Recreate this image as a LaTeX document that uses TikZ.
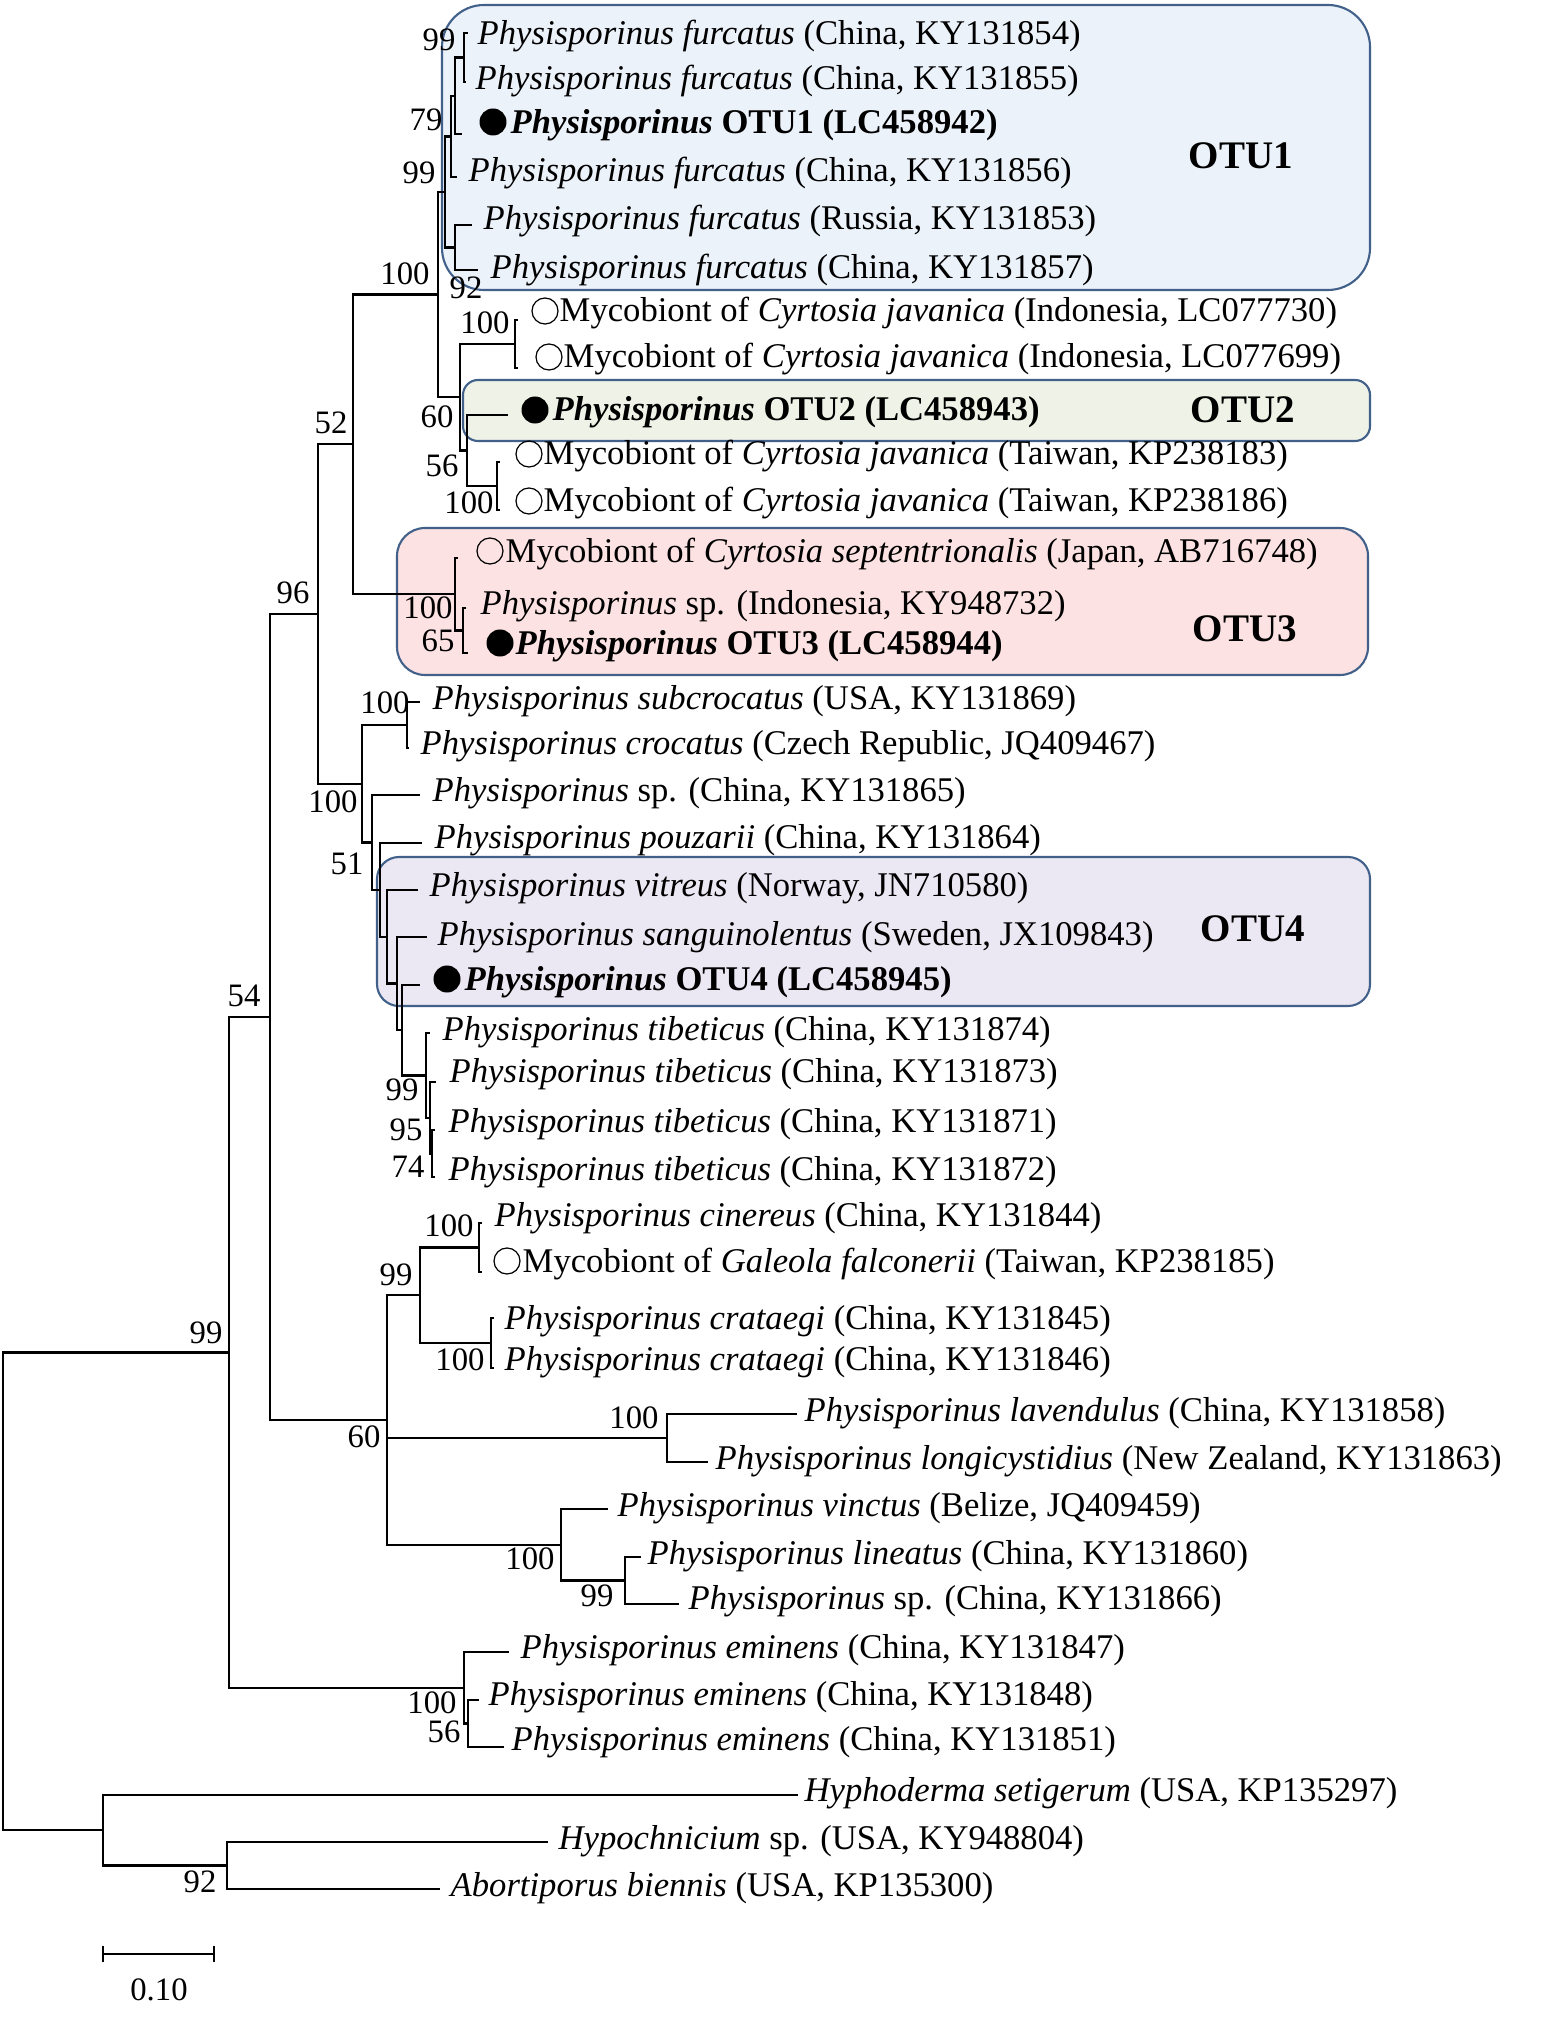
\documentclass[tikz,border=0pt]{standalone}
\usepackage{fontspec}
\setmainfont{Liberation Serif}
\usetikzlibrary{arrows.meta}
\definecolor{otuedge}{RGB}{65,96,138}
\definecolor{otuone}{RGB}{236,242,250}
\definecolor{otutwo}{RGB}{239,243,231}
\definecolor{otuthree}{RGB}{252,226,226}
\definecolor{otufour}{RGB}{236,232,243}
\tikzset{
  taxon/.style={anchor=base west,inner sep=0pt,font=\fontsize{9.85}{11}\selectfont},
  boot/.style={inner sep=0pt,font=\fontsize{9.3}{11}\selectfont},
  otulabel/.style={inner sep=0pt,font=\fontsize{11.1}{13}\selectfont\bfseries},
  otubox/.style={draw=otuedge,line width=0.6pt},
  fulldot/.style={circle,fill=black,inner sep=0pt,minimum size=0.27cm},
  opendot/.style={circle,draw=black,line width=0.35pt,inner sep=0pt,minimum size=0.26cm},
  branch/.style={line width=0.6pt}
}
\begin{document}
\begin{tikzpicture}[x=0.01cm,y=-0.01cm]
        \fill[white] (0,0) rectangle (1550,2034);
        \draw[otubox,fill=otuone,rounded corners=0.42cm] (442,5) rectangle (1370,290);
        \draw[otubox,fill=otutwo,rounded corners=0.15cm] (463,380) rectangle (1370,441);
        \draw[otubox,fill=otuthree,rounded corners=0.28cm] (397,528) rectangle (1368,675);
        \draw[otubox,fill=otufour,rounded corners=0.22cm] (377,857) rectangle (1370,1006);
        % internal nodes
        \coordinate (n99a) at (464,57.5);
        \coordinate (n79) at (455,96);
        \coordinate (n99b) at (451,136.5);
        \coordinate (n92) at (455,247.5);
        \coordinate (nA) at (445,192);
        \coordinate (nInd) at (515,344);
        \coordinate (nTw) at (497,486);
        \coordinate (n56) at (467,450.5);
        \coordinate (n60a) at (460,397);
        \coordinate (n100a) at (438,294.5);
        \coordinate (n65) at (463,630.5);
        \coordinate (n100b) at (455,594);
        \coordinate (n52) at (353,444);
        \coordinate (n100c) at (407,725);
        \coordinate (nT2) at (432,1153.5);
        \coordinate (nT1) at (430,1118);
        \coordinate (nT0) at (426,1075.5);
        \coordinate (nO1) at (402,1030);
        \coordinate (nO2) at (397,983.5);
        \coordinate (nO3) at (387,937);
        \coordinate (nP) at (380,890);
        \coordinate (n51) at (372,842.5);
        \coordinate (n100d) at (362,784);
        \coordinate (n96) at (318,614);
        \coordinate (n100e) at (479,1247.5);
        \coordinate (n100f) at (491,1343);
        \coordinate (n99c) at (420,1295);
        \coordinate (n100g) at (667,1438);
        \coordinate (n99d) at (625,1580.5);
        \coordinate (n100h) at (561,1545);
        \coordinate (n60b) at (387,1420);
        \coordinate (n54) at (270,1017);
        \coordinate (n56b) at (468,1723.5);
        \coordinate (nEm) at (464,1688);
        \coordinate (n99e) at (229,1352.5);
        \coordinate (n92b) at (227,1865.5);
        \coordinate (nOut) at (103,1830);
        \coordinate (nRoot) at (3,1591);
        % branch tips
        \coordinate (t1) at (468,33);
        \coordinate (t2) at (466,82);
        \coordinate (t3) at (462,134);
        \coordinate (t4) at (457,177);
        \coordinate (t5) at (472,225);
        \coordinate (t6) at (478,270);
        \coordinate (t7) at (518,320);
        \coordinate (t8) at (518,368);
        \coordinate (t9) at (508,415);
        \coordinate (t10) at (500,462);
        \coordinate (t11) at (500,510);
        \coordinate (t12) at (458,558);
        \coordinate (t13) at (466,608);
        \coordinate (t14) at (468,653);
        \coordinate (t15) at (420,702);
        \coordinate (t16) at (409,748);
        \coordinate (t17) at (420,795);
        \coordinate (t18) at (422,843);
        \coordinate (t19) at (418,890);
        \coordinate (t20) at (427,937);
        \coordinate (t21) at (420,985);
        \coordinate (t22) at (430,1033);
        \coordinate (t23) at (436,1082);
        \coordinate (t24) at (435,1130);
        \coordinate (t25) at (435,1177);
        \coordinate (t26) at (482,1223);
        \coordinate (t27) at (482,1272);
        \coordinate (t28) at (494,1318);
        \coordinate (t29) at (494,1368);
        \coordinate (t30) at (797,1414);
        \coordinate (t31) at (708,1462);
        \coordinate (t32) at (608,1509);
        \coordinate (t33) at (641,1557);
        \coordinate (t34) at (679,1604);
        \coordinate (t35) at (509,1652);
        \coordinate (t36) at (479,1700);
        \coordinate (t37) at (504,1747);
        \coordinate (t38) at (798,1795);
        \coordinate (t39) at (548,1842);
        \coordinate (t40) at (440,1889);
        % branches
        \draw[branch] (n99a) |- (t1) (n99a) |- (t2);
        \draw[branch] (n79) |- (n99a) (n79) |- (t3);
        \draw[branch] (n99b) |- (n79) (n99b) |- (t4);
        \draw[branch] (n92) |- (t5) (n92) |- (t6);
        \draw[branch] (nA) |- (n99b) (nA) |- (n92);
        \draw[branch] (nInd) |- (t7) (nInd) |- (t8);
        \draw[branch] (nTw) |- (t10) (nTw) |- (t11);
        \draw[branch] (n56) |- (t9) (n56) |- (nTw);
        \draw[branch] (n60a) |- (nInd) (n60a) |- (n56);
        \draw[branch] (n100a) |- (nA) (n100a) |- (n60a);
        \draw[branch] (n65) |- (t13) (n65) |- (t14);
        \draw[branch] (n100b) |- (t12) (n100b) |- (n65);
        \draw[branch] (n52) |- (n100a) (n52) |- (n100b);
        \draw[branch] (n100c) |- (t15) (n100c) |- (t16);
        \draw[branch] (nT2) |- (t24) (nT2) |- (t25);
        \draw[branch] (nT1) |- (t23) (nT1) |- (nT2);
        \draw[branch] (nT0) |- (t22) (nT0) |- (nT1);
        \draw[branch] (nO1) |- (t21) (nO1) |- (nT0);
        \draw[branch] (nO2) |- (t20) (nO2) |- (nO1);
        \draw[branch] (nO3) |- (t19) (nO3) |- (nO2);
        \draw[branch] (nP) |- (t18) (nP) |- (nO3);
        \draw[branch] (n51) |- (t17) (n51) |- (nP);
        \draw[branch] (n100d) |- (n100c) (n100d) |- (n51);
        \draw[branch] (n96) |- (n52) (n96) |- (n100d);
        \draw[branch] (n100e) |- (t26) (n100e) |- (t27);
        \draw[branch] (n100f) |- (t28) (n100f) |- (t29);
        \draw[branch] (n99c) |- (n100e) (n99c) |- (n100f);
        \draw[branch] (n100g) |- (t30) (n100g) |- (t31);
        \draw[branch] (n99d) |- (t33) (n99d) |- (t34);
        \draw[branch] (n100h) |- (t32) (n100h) |- (n99d);
        \draw[branch] (n60b) |- (n99c) (n60b) |- (n100g) (n60b) |- (n100h);
        \draw[branch] (n54) |- (n96) (n54) |- (n60b);
        \draw[branch] (n56b) |- (t36) (n56b) |- (t37);
        \draw[branch] (nEm) |- (t35) (nEm) |- (n56b);
        \draw[branch] (n99e) |- (n54) (n99e) |- (nEm);
        \draw[branch] (n92b) |- (t39) (n92b) |- (t40);
        \draw[branch] (nOut) |- (t38) (nOut) |- (n92b);
        \draw[branch] (nRoot) |- (n99e) (nRoot) |- (nOut);
        % taxa
        \node at (477,45) [taxon] (s1) {\textit{Physisporinus furcatus} (China, KY131854)};
        \node at (475,90) [taxon] (s2) {\textit{Physisporinus furcatus} (China, KY131855)};
        \node at (493,122) [fulldot] (d3) {};
        \node at (510,134) [taxon] (s3) {\textbf{\textit{Physisporinus} OTU1 (LC458942)}};
        \node at (468,182) [taxon] (s4) {\textit{Physisporinus furcatus} (China, KY131856)};
        \node at (483,230) [taxon] (s5) {\textit{Physisporinus furcatus} (Russia, KY131853)};
        \node at (490,279) [taxon] (s6) {\textit{Physisporinus furcatus} (China, KY131857)};
        \node at (545,311) [opendot] (d7) {};
        \node at (559,322) [taxon] (s7) {Mycobiont of \textit{Cyrtosia javanica} (Indonesia, LC077730)};
        \node at (549,357) [opendot] (d8) {};
        \node at (563,368) [taxon] (s8) {Mycobiont of \textit{Cyrtosia javanica} (Indonesia, LC077699)};
        \node at (535,410) [fulldot] (d9) {};
        \node at (552,421) [taxon] (s9) {\textbf{\textit{Physisporinus} OTU2 (LC458943)}};
        \node at (529,454) [opendot] (d10) {};
        \node at (543,465) [taxon] (s10) {Mycobiont of \textit{Cyrtosia javanica} (Taiwan, KP238183)};
        \node at (529,501) [opendot] (d11) {};
        \node at (543,512) [taxon] (s11) {Mycobiont of \textit{Cyrtosia javanica} (Taiwan, KP238186)};
        \node at (490,551) [opendot] (d12) {};
        \node at (505,562) [taxon] (s12) {Mycobiont of \textit{Cyrtosia septentrionalis} (Japan, AB716748)};
        \node at (480,614) [taxon] (s13) {\textit{Physisporinus} sp. (Indonesia, KY948732)};
        \node at (500,643) [fulldot] (d14) {};
        \node at (515,654) [taxon] (s14) {\textbf{\textit{Physisporinus} OTU3 (LC458944)}};
        \node at (432,709) [taxon] (s15) {\textit{Physisporinus subcrocatus} (USA, KY131869)};
        \node at (420,754) [taxon] (s16) {\textit{Physisporinus crocatus} (Czech Republic, JQ409467)};
        \node at (432,801) [taxon] (s17) {\textit{Physisporinus} sp. (China, KY131865)};
        \node at (434,848) [taxon] (s18) {\textit{Physisporinus pouzarii} (China, KY131864)};
        \node at (429,896) [taxon] (s19) {\textit{Physisporinus vitreus} (Norway, JN710580)};
        \node at (437,945) [taxon] (s20) {\textit{Physisporinus sanguinolentus} (Sweden, JX109843)};
        \node at (447,979) [fulldot] (d21) {};
        \node at (464,990) [taxon] (s21) {\textbf{\textit{Physisporinus} OTU4 (LC458945)}};
        \node at (442,1040) [taxon] (s22) {\textit{Physisporinus tibeticus} (China, KY131874)};
        \node at (449,1082) [taxon] (s23) {\textit{Physisporinus tibeticus} (China, KY131873)};
        \node at (448,1132) [taxon] (s24) {\textit{Physisporinus tibeticus} (China, KY131871)};
        \node at (448,1180) [taxon] (s25) {\textit{Physisporinus tibeticus} (China, KY131872)};
        \node at (494,1226) [taxon] (s26) {\textit{Physisporinus cinereus} (China, KY131844)};
        \node at (507,1261) [opendot] (d27) {};
        \node at (522,1272) [taxon] (s27) {Mycobiont of \textit{Galeola falconerii} (Taiwan, KP238185)};
        \node at (504,1329) [taxon] (s28) {\textit{Physisporinus crataegi} (China, KY131845)};
        \node at (504,1370) [taxon] (s29) {\textit{Physisporinus crataegi} (China, KY131846)};
        \node at (804,1421) [taxon] (s30) {\textit{Physisporinus lavendulus} (China, KY131858)};
        \node at (715,1469) [taxon] (s31) {\textit{Physisporinus longicystidius} (New Zealand, KY131863)};
        \node at (617,1516) [taxon] (s32) {\textit{Physisporinus vinctus} (Belize, JQ409459)};
        \node at (647,1564) [taxon] (s33) {\textit{Physisporinus lineatus} (China, KY131860)};
        \node at (688,1609) [taxon] (s34) {\textit{Physisporinus} sp. (China, KY131866)};
        \node at (520,1658) [taxon] (s35) {\textit{Physisporinus eminens} (China, KY131847)};
        \node at (488,1705) [taxon] (s36) {\textit{Physisporinus eminens} (China, KY131848)};
        \node at (511,1750) [taxon] (s37) {\textit{Physisporinus eminens} (China, KY131851)};
        \node at (804,1801) [taxon] (s38) {\textit{Hyphoderma setigerum} (USA, KP135297)};
        \node at (558,1849) [taxon] (s39) {\textit{Hypochnicium} sp. (USA, KY948804)};
        \node at (450,1896) [taxon] (s40) {\textit{Abortiporus biennis} (USA, KP135300)};
        % bootstrap values
        \node at (439,40) [boot] (b1) {99};
        \node at (426,120) [boot] (b2) {79};
        \node at (419,173) [boot] (b3) {99};
        \node at (466,288) [boot] (b4) {92};
        \node at (405,274) [boot] (b5) {100};
        \node at (485,323) [boot] (b6) {100};
        \node at (437,417) [boot] (b7) {60};
        \node at (442,466) [boot] (b8) {56};
        \node at (469,503) [boot] (b9) {100};
        \node at (331,423) [boot] (b10) {52};
        \node at (428,608) [boot] (b11) {100};
        \node at (438,641) [boot] (b12) {65};
        \node at (293,593) [boot] (b13) {96};
        \node at (385,703) [boot] (b14) {100};
        \node at (333,802) [boot] (b15) {100};
        \node at (347,864) [boot] (b16) {51};
        \node at (402,1090) [boot] (b17) {99};
        \node at (406,1130) [boot] (b18) {95};
        \node at (408,1167) [boot] (b19) {74};
        \node at (449,1226) [boot] (b20) {100};
        \node at (396,1275) [boot] (b21) {99};
        \node at (460,1360) [boot] (b22) {100};
        \node at (364,1437) [boot] (b23) {60};
        \node at (634,1418) [boot] (b24) {100};
        \node at (530,1559) [boot] (b25) {100};
        \node at (597,1596) [boot] (b26) {99};
        \node at (244,996) [boot] (b27) {54};
        \node at (206,1333) [boot] (b28) {99};
        \node at (432,1703) [boot] (b29) {100};
        \node at (444,1732) [boot] (b30) {56};
        \node at (200,1882) [boot] (b31) {92};
        % OTU names
        \node at (1241,156) [otulabel] (otu1) {OTU1};
        \node at (1243,410) [otulabel] (otu2) {OTU2};
        \node at (1245,629) [otulabel] (otu3) {OTU3};
        \node at (1253,929) [otulabel] (otu4) {OTU4};
        % scale bar
        \coordinate (sbl) at (102,1954);
        \coordinate (sbr) at (215,1954);
        \draw[branch,{Bar[width=4.8pt]}-{Bar[width=4.8pt]}] (sbl) -- (sbr);
        \node at (159,1990) [boot] (sbtext) {0.10};
\end{tikzpicture}
\end{document}
